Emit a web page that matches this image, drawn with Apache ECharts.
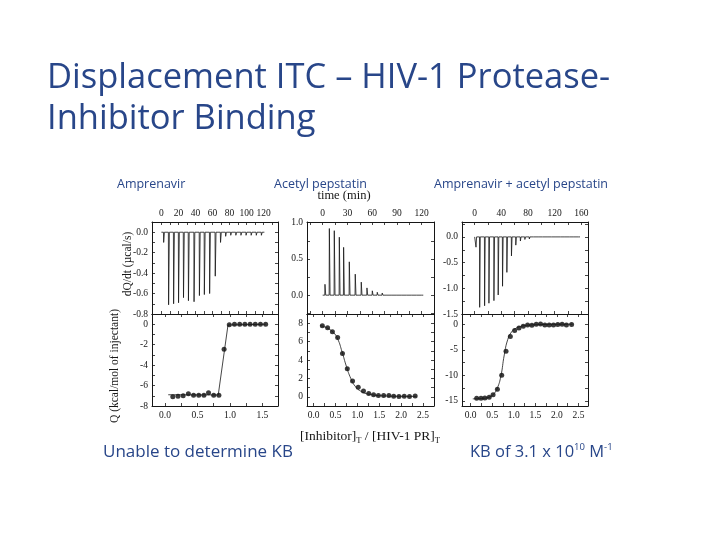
<!DOCTYPE html>
<html><head><meta charset="utf-8">
<script src="https://cdn.jsdelivr.net/npm/echarts@6/dist/echarts.min.js"></script>
<style>html,body{margin:0;padding:0;background:#fff}#c{width:720px;height:540px}</style>
</head><body><div id="c"></div>
<script>
// ---------- data ----------
// raw thermograms: injection time (min) and peak height (µcal/s)
const ampTime = [2.7, 8.5, 14.4, 20.2, 26.0, 31.8, 38.4, 44.7, 50.5, 56.7, 63.3, 69.5, 75.5, 81.5, 87.5, 93.5, 99.5, 105.5, 111.5, 117.5];
const ampPeak = [-0.10, -0.71, -0.70, -0.69, -0.64, -0.67, -0.68, -0.62, -0.61, -0.60, -0.43, -0.10, -0.04, -0.03, -0.03, -0.03, -0.03, -0.03, -0.03, -0.03];
const acTime = [2.8, 8.1, 14.1, 20.2, 25.4, 32.3, 39.5, 46.8, 53.7, 60.2, 66.2, 72.2, 78.2, 84.2, 90.2, 96.2, 102.2, 108.2, 114.2, 120.2];
const acPeak = [0.15, 0.92, 0.89, 0.80, 0.66, 0.46, 0.29, 0.18, 0.10, 0.06, 0.04, 0.03, 0.025, 0.02, 0.02, 0.015, 0.015, 0.01, 0.01, 0.01];
const mixTime = [2.0, 7.5, 14.9, 21.4, 28.9, 35.3, 41.8, 48.3, 55.2, 61.7, 68.6, 75.3, 82.0, 88.7, 95.4, 102.1, 108.8, 115.5, 122.2, 128.9, 135.6, 142.3, 149.0, 155.7];
const mixPeak = [-0.20, -1.37, -1.34, -1.29, -1.24, -1.13, -0.96, -0.69, -0.37, -0.16, -0.08, -0.05, -0.04, -0.03, -0.03, -0.02, -0.02, -0.02, -0.02, -0.02, -0.02, -0.02, -0.02, -0.02];
const ampRun = [0, 121];
const acRun = [0, 122];
const mixRun = [0, 158];

// integrated heats: molar ratio and Q (kcal/mol of injectant)
const ampRatio = [0.12, 0.20, 0.28, 0.36, 0.44, 0.52, 0.60, 0.67, 0.75, 0.83, 0.91, 0.99, 1.07, 1.15, 1.23, 1.31, 1.39, 1.47, 1.55];
const ampQ = [-7.1, -7.05, -7.0, -6.8, -6.95, -6.95, -6.95, -6.7, -6.95, -6.95, -2.45, -0.05, 0, 0, 0, 0, 0, 0, 0];
const ampFitX = [0.05, 0.82, 0.97, 1.55];
const ampFitY = [-6.9, -6.92, -0.08, 0];

const acRatio = [0.20, 0.32, 0.43, 0.55, 0.66, 0.77, 0.89, 1.02, 1.14, 1.26, 1.37, 1.48, 1.60, 1.72, 1.83, 1.95, 2.07, 2.19, 2.32];
const acQ = [7.73, 7.51, 7.07, 6.45, 4.72, 3.06, 1.73, 1.04, 0.63, 0.37, 0.22, 0.15, 0.15, 0.15, 0.05, 0.03, 0.05, 0.03, 0.08];
const acFitX = [0.15, 0.30, 0.45, 0.55, 0.65, 0.75, 0.85, 0.95, 1.10, 1.30, 1.60, 2.00, 2.35];
const acFitY = [7.75, 7.5, 7.0, 6.3, 4.9, 3.3, 2.0, 1.15, 0.55, 0.25, 0.1, 0.05, 0.04];

const mixRatio = [0.14, 0.24, 0.33, 0.43, 0.52, 0.62, 0.72, 0.82, 0.92, 1.02, 1.12, 1.22, 1.32, 1.42, 1.52, 1.62, 1.72, 1.82, 1.92, 2.02, 2.12, 2.22, 2.34];
const mixQ = [-14.5, -14.5, -14.45, -14.3, -13.8, -12.7, -10.0, -5.3, -2.4, -1.23, -0.72, -0.39, -0.13, -0.2, 0, 0.06, -0.13, -0.13, -0.13, -0.05, 0, -0.13, -0.05];
const mixFitX = [0.05, 0.30, 0.45, 0.55, 0.62, 0.70, 0.78, 0.86, 0.95, 1.05, 1.20, 1.40, 1.70, 2.00, 2.36];
const mixFitY = [-14.6, -14.5, -14.2, -13.5, -12.5, -10.2, -6.0, -3.0, -1.5, -0.8, -0.35, -0.15, -0.05, 0, 0];

// tick labels and tick marks
const ampTimeLabels = [0, 20, 40, 60, 80, 100, 120];
const ampTimeTicks = [0, 10, 20, 30, 40, 50, 60, 70, 80, 90, 100, 110, 120, 130];
const acTimeLabels = [0, 30, 60, 90, 120];
const acTimeTicks = [-15, 0, 15, 30, 45, 60, 75, 90, 105, 120];
const mixTimeLabels = [0, 40, 80, 120, 160];
const mixTimeTicks = [0, 20, 40, 60, 80, 100, 120, 140, 160];
const ampDqLabels = [0, -0.2, -0.4, -0.6, -0.8];
const ampDqTicks = [0.1, 0, -0.1, -0.2, -0.3, -0.4, -0.5, -0.6, -0.7];
const acDqLabels = [0, 0.5, 1.0];
const acDqTicks = [-0.25, 0, 0.25, 0.5, 0.75];
const mixDqLabels = [0, -0.5, -1.0, -1.5];
const mixDqTicks = [0.25, 0, -0.25, -0.5, -0.75, -1.0, -1.25];
const ratioLabels1 = [0, 0.5, 1.0, 1.5];
const ratioTicks1 = [0, 0.25, 0.5, 0.75, 1.0, 1.25, 1.5];
const ratioLabels = [0, 0.5, 1.0, 1.5, 2.0, 2.5];
const ratioTicks = [0, 0.25, 0.5, 0.75, 1.0, 1.25, 1.5, 1.75, 2.0, 2.25, 2.5];
const ampQLabels = [0, -2, -4, -6, -8];
const ampQTicks = [0, -1, -2, -3, -4, -5, -6, -7];
const acQLabels = [0, 2, 4, 6, 8];
const acQTicks = [0, 1, 2, 3, 4, 5, 6, 7, 8];
const mixQLabels = [0, -5, -10, -15];
const mixQTicks = [0, -2.5, -5, -7.5, -10, -12.5, -15];

// ---------- build ----------
const INK = '#161616';
const SERIF = '"Liberation Serif", "DejaVu Serif", serif';
const BLUE = '#284689';
const SANS = '"Open Sans", "Noto Sans", sans-serif';
const f1 = v => v.toFixed(1);
const f0 = v => String(v);

function axis(kind, gi, pos, min, max, labels, ticks, fmt, showLabel) {
  return {
    type: 'value', gridIndex: gi, position: pos, min: min, max: max,
    axisLine: { show: true, onZero: false, lineStyle: { color: INK, width: 1 } },
    axisTick: { show: true, inside: true, length: 3, customValues: ticks, lineStyle: { color: INK, width: 0.8 } },
    axisLabel: { show: showLabel, customValues: labels, formatter: fmt, fontFamily: SERIF, fontSize: 9.5, color: INK, margin: 4 },
    splitLine: { show: false }
  };
}

function thermo(times, peaks, run) {
  const d = [[run[0], 0]];
  times.forEach((t, i) => {
    d.push([t - 0.25, 0]);
    d.push([t, peaks[i]]);
    d.push([t + 0.9, 0]);
  });
  d.push([run[1], 0]);
  return d;
}
const zip = (xs, ys) => xs.map((x, i) => [x, ys[i]]);

const grids = [
  { left: 152, top: 222, width: 126, height: 92 },
  { left: 307, top: 222, width: 127, height: 92 },
  { left: 462, top: 222, width: 126, height: 92 },
  { left: 152, top: 314, width: 126, height: 92 },
  { left: 307, top: 314, width: 127, height: 92 },
  { left: 462, top: 314, width: 126, height: 92 }
];

const xAxes = [
  axis('x', 0, 'top', -11, 137, ampTimeLabels, ampTimeTicks, f0, true),
  axis('x', 0, 'bottom', -11, 137, [], ampTimeTicks, f0, false),
  axis('x', 1, 'top', -19, 135, acTimeLabels, acTimeTicks, f0, true),
  axis('x', 1, 'bottom', -19, 135, [], acTimeTicks, f0, false),
  axis('x', 2, 'top', -19, 170, mixTimeLabels, mixTimeTicks, f0, true),
  axis('x', 2, 'bottom', -19, 170, [], mixTimeTicks, f0, false),
  axis('x', 3, 'bottom', -0.2, 1.74, ratioLabels1, ratioTicks1, f1, true),
  axis('x', 3, 'top', -0.2, 1.74, [], ratioTicks1, f1, false),
  axis('x', 4, 'bottom', -0.15, 2.75, ratioLabels, ratioTicks, f1, true),
  axis('x', 4, 'top', -0.15, 2.75, [], ratioTicks, f1, false),
  axis('x', 5, 'bottom', -0.2, 2.72, ratioLabels, ratioTicks, f1, true),
  axis('x', 5, 'top', -0.2, 2.72, [], ratioTicks, f1, false)
];
const yAxes = [
  axis('y', 0, 'left', -0.8, 0.1, ampDqLabels, ampDqTicks, f1, true),
  axis('y', 0, 'right', -0.8, 0.1, [], ampDqTicks, f1, false),
  axis('y', 1, 'left', -0.26, 1.01, acDqLabels, acDqTicks, f1, true),
  axis('y', 1, 'right', -0.26, 1.01, [], acDqTicks, f1, false),
  axis('y', 2, 'left', -1.5, 0.29, mixDqLabels, mixDqTicks, f1, true),
  axis('y', 2, 'right', -1.5, 0.29, [], mixDqTicks, f1, false),
  axis('y', 3, 'left', -8, 1, ampQLabels, ampQTicks, f0, true),
  axis('y', 3, 'right', -8, 1, [], ampQTicks, f0, false),
  axis('y', 4, 'left', -1, 9, acQLabels, acQTicks, f0, true),
  axis('y', 4, 'right', -1, 9, [], acQTicks, f0, false),
  axis('y', 5, 'left', -16, 2, mixQLabels, mixQTicks, f0, true),
  axis('y', 5, 'right', -16, 2, [], mixQTicks, f0, false)
];

function lineS(g, data, smooth, w) {
  return { type: 'line', xAxisIndex: 2 * g, yAxisIndex: 2 * g, data: data, showSymbol: false, smooth: smooth,
    lineStyle: { color: INK, width: w }, animation: false, silent: true };
}
function dots(g, data) {
  return { type: 'scatter', xAxisIndex: 2 * g, yAxisIndex: 2 * g, data: data, symbolSize: 5,
    itemStyle: { color: '#0a0a0a' }, animation: false, silent: true };
}

const series = [
  lineS(0, thermo(ampTime, ampPeak, ampRun), false, 0.8),
  lineS(1, thermo(acTime, acPeak, acRun), false, 0.8),
  lineS(2, thermo(mixTime, mixPeak, mixRun), false, 0.8),
  lineS(3, zip(ampFitX, ampFitY), false, 0.8),
  dots(3, zip(ampRatio, ampQ)),
  lineS(4, zip(acFitX, acFitY), true, 0.8),
  dots(4, zip(acRatio, acQ)),
  lineS(5, zip(mixFitX, mixFitY), true, 0.8),
  dots(5, zip(mixRatio, mixQ))
];

function txt(x, y, text, size, family, fill, align, extra) {
  return Object.assign({ type: 'text', x: x, y: y, silent: true,
    style: { text: text, fontSize: size, fontFamily: family, fill: fill, textAlign: align || 'left', textVerticalAlign: 'middle' } }, extra || {});
}

const graphic = [
  txt(47, 78, 'Displacement ITC \u2013 HIV-1 Protease-', 34.5, SANS, BLUE),
  txt(47, 119, 'Inhibitor Binding', 34.5, SANS, BLUE),
  txt(117, 184, 'Amprenavir', 12.5, SANS, BLUE),
  txt(274, 184, 'Acetyl pepstatin', 12.5, SANS, BLUE),
  txt(434, 184, 'Amprenavir + acetyl pepstatin', 12.5, SANS, BLUE),
  txt(344, 196, 'time (min)', 12.5, SERIF, INK, 'center'),
  txt(128, 264, 'dQ/dt (\u00b5cal/s)', 11.5, SERIF, INK, 'center', { rotation: Math.PI / 2 }),
  txt(115, 366, 'Q (kcal/mol of injectant)', 11.5, SERIF, INK, 'center', { rotation: Math.PI / 2 }),
  { type: 'text', x: 300, y: 436, silent: true,
    style: { text: '{a|[Inhibitor]}{s|T}{a| / [HIV-1 PR]}{s|T}', textVerticalAlign: 'middle',
      rich: { a: { fontSize: 13.5, fontFamily: SERIF, fill: INK, lineHeight: 19, verticalAlign: 'middle' },
              s: { fontSize: 8.5, fontFamily: SERIF, fill: INK, lineHeight: 19, verticalAlign: 'bottom' } } } },
  txt(103, 452, 'Unable to determine KB', 17, SANS, BLUE),
  { type: 'text', x: 470, y: 452, silent: true,
    style: { text: '{a|KB of 3.1 x 10}{s|10}{a| M}{s|-1}', textVerticalAlign: 'middle',
      rich: { a: { fontSize: 16.5, fontFamily: SANS, fill: BLUE, lineHeight: 19, verticalAlign: 'middle' },
              s: { fontSize: 9.5, fontFamily: SANS, fill: BLUE, lineHeight: 19, verticalAlign: 'top' } } } }
];

const chart = echarts.init(document.getElementById('c'), null, { renderer: 'canvas' });
chart.setOption({
  backgroundColor: '#ffffff',
  animation: false,
  grid: grids,
  xAxis: xAxes,
  yAxis: yAxes,
  series: series,
  graphic: graphic
});
</script>
</body></html>
